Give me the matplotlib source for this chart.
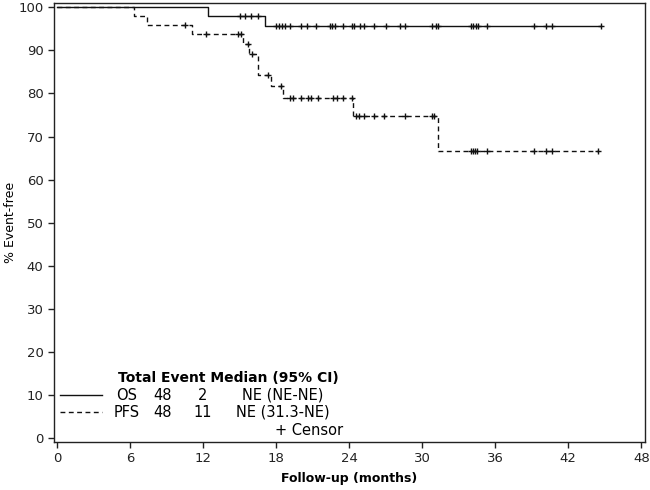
import numpy as np
import matplotlib
matplotlib.use("Agg")
import matplotlib.pyplot as plt
from matplotlib.lines import Line2D

# ---- data ----
os_times = [0, 12.4, 17.1]
os_surv = [100, 97.9, 95.6]
os_end = 44.7
os_censor = [15.0, 15.4, 15.9, 16.5, 18.0, 18.2, 18.5, 18.7, 19.1, 20.0, 20.5,
             21.3, 22.4, 22.6, 22.8, 23.5, 24.2, 24.4, 24.9, 25.2, 26.0, 27.0,
             28.2, 28.6, 30.8, 31.1, 31.3, 34.0, 34.2, 34.4, 34.6, 35.3, 39.2,
             40.2, 40.7, 44.7]

pfs_times = [0, 6.3, 7.4, 11.1, 15.3, 15.8, 16.5, 17.6, 18.6, 24.3, 31.3]
pfs_surv = [100, 97.9, 95.8, 93.7, 91.4, 89.1, 84.2, 81.7, 79.0, 74.8, 66.6]
pfs_end = 44.4
pfs_censor = [10.5, 12.2, 14.9, 15.1, 15.7, 16.0, 17.3, 18.4, 19.1, 19.4, 20.0,
              20.6, 20.9, 21.4, 22.7, 23.0, 23.5, 24.2, 24.6, 24.8, 25.2, 26.0,
              26.9, 28.6, 30.8, 31.0, 34.0, 34.2, 34.3, 34.5, 35.3, 39.2, 40.2,
              40.7, 44.4]

x_ticks = [0, 6, 12, 18, 24, 30, 36, 42, 48]
y_ticks = [0, 10, 20, 30, 40, 50, 60, 70, 80, 90, 100]

legend_header = "Total Event Median (95% CI)"
legend_rows = [
    ("OS", "48", "2", "NE (NE-NE)"),
    ("PFS", "48", "11", "NE (31.3-NE)"),
]

plt.rcParams['font.family'] = ['DejaVu Sans']
W, H = 650, 490
fig = plt.figure(figsize=(6.5, 4.9), dpi=100)
ax = fig.add_axes([54 / W, 1 - 442 / H, (645 - 54) / W, (442 - 3) / H])

col = '#111111'


def draw(times, surv, end, censor, ls):
    t = list(times) + [end]
    s = list(surv) + [surv[-1]]
    ax.step(t, s, where='post', color=col, lw=1.0, linestyle=ls)
    idx = np.searchsorted(np.array(times), np.array(censor), side='right') - 1
    cy = np.array(surv)[idx]
    ax.plot(censor, cy, linestyle='none', marker='+', color=col, ms=5, mew=1.0)


draw(os_times, os_surv, os_end, os_censor, '-')
draw(pfs_times, pfs_surv, pfs_end, pfs_censor, (0, (3.5, 2.5)))

ax.set_xlim(-0.25, 48.3)
ax.set_ylim(-0.9, 101)
ax.set_xticks(x_ticks)
ax.set_yticks(y_ticks)
ax.tick_params(direction='out', length=4, width=1, labelsize=9.5, colors='#222222')
for sp in ax.spines.values():
    sp.set_linewidth(1.0)
    sp.set_color('#222222')

fig.text(349 / W, 1 - 478 / H, "Follow-up (months)", ha='center', va='center',
         fontsize=9, fontweight='bold')
fig.text(11 / W, 1 - 222 / H, "% Event-free", ha='center', va='center',
         rotation=90, fontsize=9)

# inset legend
def ft(x, y, s, size=10.5, **kw):
    fig.text(x / W, 1 - y / H, s, va='center', fontsize=size, **kw)

ft(118, 378, legend_header, size=10, ha='left', fontweight='bold')

row_y = [395, 412]
styles = ['-', (0, (3.5, 2.5))]
for (name, tot, ev, med), y, ls in zip(legend_rows, row_y, styles):
    fig.add_artist(Line2D([60 / W, 102 / W], [1 - y / H, 1 - y / H],
                          color=col, lw=1.0, linestyle=ls))
    ft(127, y, name, ha='center')
    ft(163, y, tot, ha='center')
    ft(203, y, ev, ha='center')
    ft(283, y, med, ha='center')

ft(275, 430, "+ Censor", ha='left')

fig.savefig("out.png", dpi=100)
